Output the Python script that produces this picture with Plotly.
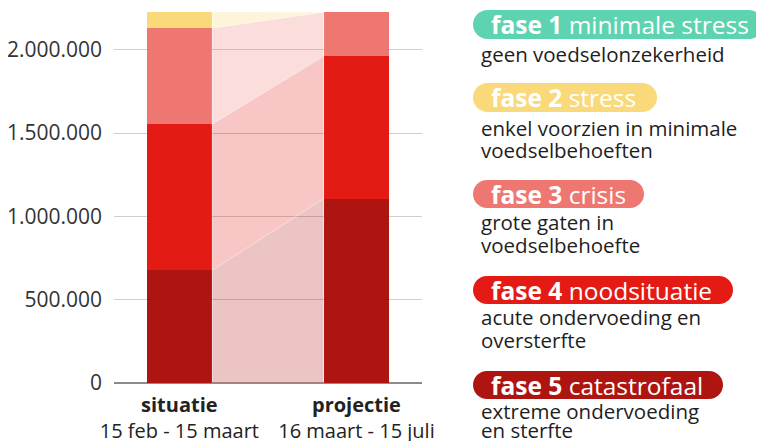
import plotly.graph_objects as go

# ---------------- data ----------------
categories = ["situatie", "projectie"]
periods = ["15 feb - 15 maart", "16 maart - 15 juli"]
phase_names = ["fase 5", "fase 4", "fase 3", "fase 2", "fase 1"]
fase5 = [677000, 1107000]
fase4 = [877000, 854000]
fase3 = [576000, 265000]
fase2 = [97000, 0]
fase1 = [0, 0]
y_ticks = [0, 500000, 1000000, 1500000, 2000000]

legend_titles = ["minimale stress", "stress", "crisis", "noodsituatie", "catastrofaal"]
legend_desc = [
    ["geen voedselonzekerheid"],
    ["enkel voorzien in minimale", "voedselbehoeften"],
    ["grote gaten in", "voedselbehoefte"],
    ["acute ondervoeding en", "oversterfte"],
    ["extreme ondervoeding", "en sterfte"],
]

# ---------------- style ----------------
colors = {"fase 5": "#AE1410", "fase 4": "#E31B14", "fase 3": "#EE7771",
          "fase 2": "#F9D97A", "fase 1": "#5DD3B0"}
band_colors = {"fase 5": "rgba(174,20,16,0.25)", "fase 4": "rgba(227,27,20,0.25)",
               "fase 3": "rgba(238,119,113,0.25)", "fase 2": "rgba(249,217,122,0.28)",
               "fase 1": "rgba(93,211,176,0.25)"}
FONT = "Open Sans"
OFF = 8  # page body margin of the html page
W, H = 764 - OFF, 441 - OFF
ML, MT = 114 - OFF, 12 - OFF
PR, PB = 422 - OFF, 383 - OFF
MR, MB = W - PR, H - PB
PW, PH = W - ML - MR, H - MT - MB
bar_w = 0.371

series = {"fase 5": fase5, "fase 4": fase4, "fase 3": fase3, "fase 2": fase2, "fase 1": fase1}
xpos = [0, 1]

fig = go.Figure()

# connecting bands between the two bars
cum = [0, 0]
for name in phase_names:
    vals = series[name]
    lo = list(cum)
    hi = [cum[i] + vals[i] for i in range(2)]
    if hi[0] - lo[0] > 0 or hi[1] - lo[1] > 0:
        xl = xpos[0] + bar_w / 2
        xr = xpos[1] - bar_w / 2
        fig.add_trace(go.Scatter(
            x=[xl, xr, xr, xl, xl], y=[lo[0], lo[1], hi[1], hi[0], lo[0]],
            fill="toself", fillcolor=band_colors[name], mode="lines",
            line=dict(width=0.6, color="rgba(255,255,255,0.5)"),
            hoverinfo="skip", showlegend=False))
    cum = hi

# stacked bars
for name in phase_names:
    fig.add_trace(go.Bar(x=xpos, y=series[name], width=bar_w, name=name,
                         marker=dict(color=colors[name], line=dict(width=0)),
                         showlegend=False))

ticktext = [f"<b>{c}</b><br>{p}" for c, p in zip(categories, periods)]

fig.update_layout(
    width=W, height=H, barmode="stack",
    margin=dict(l=ML, r=MR, t=MT, b=MB, pad=0),
    paper_bgcolor="white", plot_bgcolor="white",
    separators=",.",
    font=dict(family=FONT, color="#2a2a2a", size=20),
    xaxis=dict(range=[-0.369, 1.370], tickvals=xpos, ticktext=ticktext,
               showgrid=False, zeroline=False, showline=False, automargin=False,
               tickfont=dict(size=20, color="#222"), ticks="", ticklabelstandoff=8),
    yaxis=dict(range=[0, 2227000], tickvals=y_ticks, tickformat=",d",
               showgrid=True, gridcolor="#cfcfcf", gridwidth=1,
               zeroline=True, zerolinecolor="#8c8c8c", zerolinewidth=1.5,
               showline=False, ticks="", ticklabelstandoff=11, automargin=False,
               tickfont=dict(size=21, color="#333")),
)

# ---------------- legend (pills + descriptions) ----------------
def px_x(px):  # reference-window pixel -> paper
    return (px - OFF - ML) / PW

def px_y(py):
    return (PB - (py - OFF)) / PH

def pill_path(x0, y0, x1, y1):
    r = (y1 - y0) / 2.0
    k = 0.5523 * r
    X0, X1 = px_x(x0), px_x(x1)
    Y0, Y1 = px_y(y0), px_y(y1)  # Y0 top, Y1 bottom
    rx, ry, kx, ky = r / PW, r / PH, k / PW, k / PH
    p = (f"M {X0+rx},{Y0} L {X1-rx},{Y0} "
         f"C {X1-rx+kx},{Y0} {X1},{Y0-ry+ky} {X1},{Y0-ry} "
         f"C {X1},{Y0-ry-ky} {X1-rx+kx},{Y1} {X1-rx},{Y1} "
         f"L {X0+rx},{Y1} "
         f"C {X0+rx-kx},{Y1} {X0},{Y1+ry-ky} {X0},{Y1+ry} "
         f"C {X0},{Y1+ry+ky} {X0+rx-kx},{Y0} {X0+rx},{Y0} Z")
    return p

pill_boxes = [(473, 10, 763, 39), (473, 83, 657, 112), (473, 180, 644, 208),
              (473, 276, 733, 304), (473, 371, 723, 399)]
desc_y = [[54], [128, 150], [222, 245], [317, 340], [411, 430]]
legend_phase = ["fase 1", "fase 2", "fase 3", "fase 4", "fase 5"]

for i, name in enumerate(legend_phase):
    x0, y0, x1, y1 = pill_boxes[i]
    fig.add_shape(type="path", path=pill_path(x0, y0, x1, y1), xref="paper", yref="paper",
                  fillcolor=colors[name], line=dict(width=0), layer="above")
    fig.add_annotation(x=px_x(489), y=px_y((y0 + y1) / 2), xref="paper", yref="paper",
                       xanchor="left", yanchor="middle", showarrow=False,
                       text=f"<b>{name}</b> {legend_titles[i]}",
                       font=dict(family=FONT, size=24.5, color="white"))
    for line, yy in zip(legend_desc[i], desc_y[i]):
        fig.add_annotation(x=px_x(479), y=px_y(yy), xref="paper", yref="paper",
                           xanchor="left", yanchor="middle", showarrow=False,
                           text=line, font=dict(family=FONT, size=20.5, color="#1e1e1e"))

fig.write_html("out.html")
